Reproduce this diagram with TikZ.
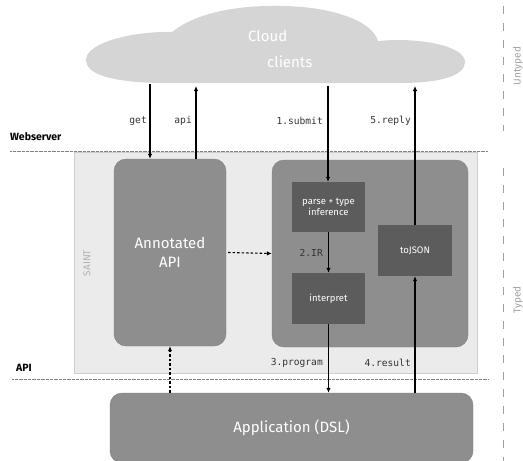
\documentclass[tikz,border=0pt]{standalone}
\usepackage{fontspec}
\setmainfont{Fira Sans}
\setmonofont{DejaVu Sans Mono}
\usetikzlibrary{arrows.meta}
\definecolor{cloudc}{HTML}{D5D5D5}
\definecolor{saintbg}{HTML}{EBEBEB}
\definecolor{saintln}{HTML}{CDCDCD}
\definecolor{midbox}{HTML}{8E8E8E}
\definecolor{darkbox}{HTML}{5C5C5C}
\definecolor{sidegray}{HTML}{A0A0A0}
\tikzset{
  midstyle/.style={rectangle, rounded corners=12pt, fill=midbox, draw=midbox!90!black, line width=0.4pt, text=white, inner sep=0pt},
  darkstyle/.style={rectangle, fill=darkbox, text=white, inner sep=0pt, font=\fontsize{9.5}{11}\selectfont, align=center},
  lbl/.style={anchor=east, font=\ttfamily\fontsize{9.6}{11}\selectfont, text=black!80, inner sep=0pt},
  flow/.style={line width=1.1pt, -{Latex[length=5pt,width=4.5pt]}},
  dflow/.style={line width=1.1pt, dash pattern=on 2.5pt off 2pt, -{Latex[length=5pt,width=4.5pt]}},
  sepline/.style={draw=black!50, line width=0.6pt, dash pattern=on 0.6pt off 0.7pt},
  sidedash/.style={draw=sidegray, line width=0.8pt, dash pattern=on 8pt off 9pt},
  sidetext/.style={text=sidegray, rotate=90, font=\fontsize{10}{12}\selectfont, inner sep=0pt},
  layer/.style={anchor=west, font=\bfseries\fontsize{10.5}{12}\selectfont, inner sep=0pt}
}
\begin{document}
\begin{tikzpicture}[x=1pt,y=-1pt]
\useasboundingbox (0,0) rectangle (523,461);
% cloud
\fill[cloudc] (86,60) .. controls (86,42) and (135,31) .. (172,32)
  .. controls (200,10) and (245,5) .. (285,6)
  .. controls (330,7) and (372,20) .. (378,41)
  .. controls (420,37) and (465,46) .. (465,62)
  .. controls (465,76) and (440,83) .. (400,83)
  -- (160,83)
  .. controls (110,82) and (86,74) .. (86,60) -- cycle;
\node[anchor=west, text=white, inner sep=0pt, font=\fontsize{15}{17}\selectfont] (cloudA) at (248,36) {Cloud};
\node[anchor=west, text=white, inner sep=0pt, font=\fontsize{15}{17}\selectfont] (cloudB) at (267,62) {clients};
\coordinate (cget) at (150,84);
\coordinate (capi) at (196,86);
\coordinate (csub) at (328,86);
\coordinate (crep) at (415,86);
% layer lines
\node[layer] (web) at (10,137) {Webserver};
\draw[sepline] (10,151) -- (488,151);
\node[layer] (apil) at (16,368) {API};
\draw[sepline] (12,379) -- (488,379);
% saint
\node[rectangle, fill=saintbg, draw=saintln, line width=0.6pt, minimum width=403pt, minimum height=221pt, inner sep=0pt] (saint) at (275.5,262.5) {};
\node[sidetext, text=black!30] (saintl) at (87,263) {SAINT};
\node[midstyle, minimum width=112pt, minimum height=187pt, align=center, font=\fontsize{15}{19}\selectfont] (api) at (170,252.5) {Annotated\\API};
\node[midstyle, minimum width=196pt, minimum height=187pt] (engine) at (370,253.5) {};
\node[darkstyle, minimum width=73pt, minimum height=50pt] (parse) at (328.5,207) {parse + type\\inference};
\node[darkstyle, minimum width=73pt, minimum height=51pt] (interp) at (328.5,298.5) {interpret};
\node[darkstyle, minimum width=74pt, minimum height=51pt] (tojson) at (415,250.5) {toJSON};
% application
\node[midstyle, minimum width=363pt, minimum height=70pt, font=\fontsize{15}{17}\selectfont] (app) at (291.5,428) {Application (DSL)};
% arrows
\draw[flow] (cget) -- (cget |- api.north);
\draw[flow] (capi |- api.north) -- (capi);
\draw[flow] (csub) -- (csub |- parse.north);
\draw[flow] (crep |- tojson.north) -- (crep);
\draw[flow] (parse.south) -- (interp.north);
\draw[flow] (interp.south) -- (interp.south |- app.north);
\draw[flow] (crep |- app.north) -- (tojson.south);
\draw[dflow] (api.south |- app.north) -- (api.south);
\draw[dflow] ([xshift=2pt]api.east) -- (engine.west);
% labels
\node[lbl] (lget) at (147,121) {get};
\node[lbl] (lapi) at (192,121) {api};
\node[lbl] (lsub) at (323,121) {1.submit};
\node[lbl] (lrep) at (411,121) {5.reply};
\node[lbl] (lir) at (323,253) {2.IR};
\node[lbl] (lprog) at (323,363) {3.program};
\node[lbl] (lres) at (411,363) {4.result};
% side
\draw[sidedash] (503,6) -- (503,131);
\draw[sidedash] (503,168) -- (503,461);
\node[sidetext] (unt) at (518,66) {Untyped};
\node[sidetext] (typ) at (518,300) {Typed};
\end{tikzpicture}
\end{document}
